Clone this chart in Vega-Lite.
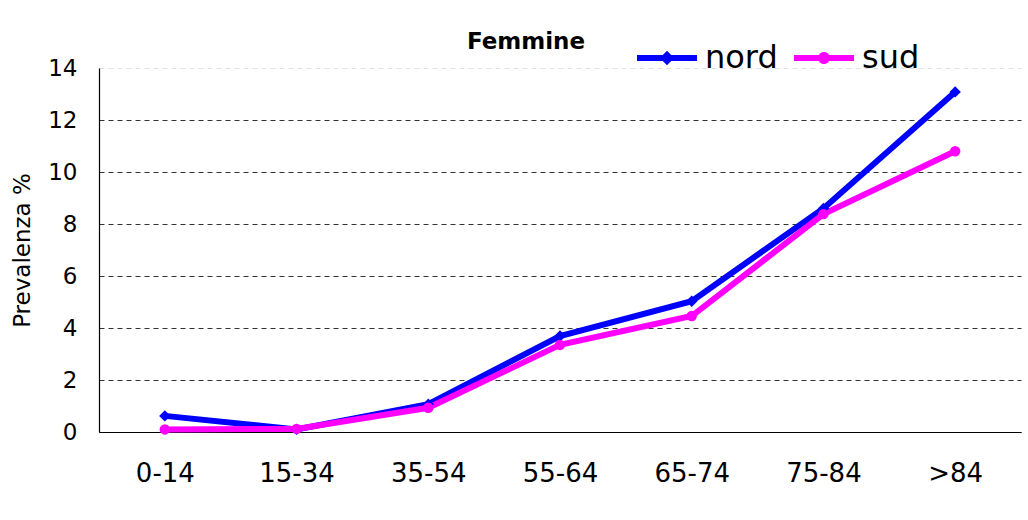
{
  "$schema": "https://vega.github.io/schema/vega-lite/v6.json",
  "width": 922,
  "height": 364,
  "autosize": {"type": "none"},
  "padding": {"left": 99, "top": 68, "right": 7, "bottom": 88},
  "background": "white",
  "title": {"text": "Femmine", "font": "DejaVu Sans", "fontSize": 23, "fontWeight": "bold", "color": "black", "anchor": "middle", "dx": -34, "dy": 46, "offset": 20},
  "data": {"values": [
    {"age": "0-14", "region": "nord", "value": 0.62},
    {"age": "15-34", "region": "nord", "value": 0.1},
    {"age": "35-54", "region": "nord", "value": 1.07},
    {"age": "55-64", "region": "nord", "value": 3.69},
    {"age": "65-74", "region": "nord", "value": 5.03},
    {"age": "75-84", "region": "nord", "value": 8.6},
    {"age": ">84", "region": "nord", "value": 13.08},
    {"age": "0-14", "region": "sud", "value": 0.1},
    {"age": "15-34", "region": "sud", "value": 0.12},
    {"age": "35-54", "region": "sud", "value": 0.93},
    {"age": "55-64", "region": "sud", "value": 3.35},
    {"age": "65-74", "region": "sud", "value": 4.46},
    {"age": "75-84", "region": "sud", "value": 8.38},
    {"age": ">84", "region": "sud", "value": 10.8}
  ]},
  "encoding": {
    "x": {"field": "age", "type": "ordinal", "sort": ["0-14", "15-34", "35-54", "55-64", "65-74", "75-84", ">84"],
      "scale": {"type": "point", "padding": 0.5},
      "axis": {"title": null, "labelAngle": 0, "ticks": false, "domainColor": "black", "domainWidth": 1.2, "labelFont": "DejaVu Sans", "labelFontSize": 26, "labelColor": "black", "labelPadding": 28, "grid": false}},
    "y": {"field": "value", "type": "quantitative", "scale": {"domain": [0, 14], "nice": false},
      "axis": {"title": "Prevalenza %", "titleFont": "DejaVu Sans", "titleFontSize": 23, "titleFontWeight": "normal", "titleColor": "black", "titlePadding": 13,
        "values": [0, 2, 4, 6, 8, 10, 12, 14], "ticks": false, "domainColor": "black", "domainWidth": 1.2,
        "labelFont": "DejaVu Sans", "labelFontSize": 23, "labelColor": "black", "labelPadding": 22,
        "grid": true, "gridDash": [5, 4], "gridWidth": 1,
        "gridColor": {"condition": {"test": "datum.value === 14", "value": "#e0e0e0"}, "value": "#333333"}}},
    "color": {"field": "region", "type": "nominal",
      "scale": {"domain": ["nord", "sud"], "range": ["#0000ff", "#ff00ff"]},
      "legend": {"title": null, "orient": "none", "legendX": 538, "legendY": -40, "direction": "horizontal",
        "labelFont": "DejaVu Sans", "labelFontSize": 32, "labelColor": "black", "labelOffset": 8, "columnPadding": 16,
        "symbolSize": 3600, "symbolStrokeWidth": 0,
        "encode": {"symbols": {"update": {
          "shape": {"signal": "datum.value === 'nord' ? 'M-1,-0.1H1V0.1H-1Z M0,-0.24L0.24,0L0,0.24L-0.24,0Z' : 'M-1,-0.1H1V0.1H-1Z M-0.2,0A0.2,0.2 0 1,1 0.2,0A0.2,0.2 0 1,1 -0.2,0Z'"},
          "fill": {"scale": "color", "field": "value"},
          "opacity": {"value": 1},
          "strokeWidth": {"value": 0}
        }}}}}
  },
  "layer": [
    {"mark": {"type": "line", "strokeWidth": 6}},
    {"transform": [{"filter": "datum.region === 'nord'"}], "mark": {"type": "point", "shape": "diamond", "filled": true, "opacity": 1, "size": 130}},
    {"transform": [{"filter": "datum.region === 'sud'"}], "mark": {"type": "point", "shape": "circle", "filled": true, "opacity": 1, "size": 110}}
  ],
  "config": {"view": {"stroke": null}}
}
